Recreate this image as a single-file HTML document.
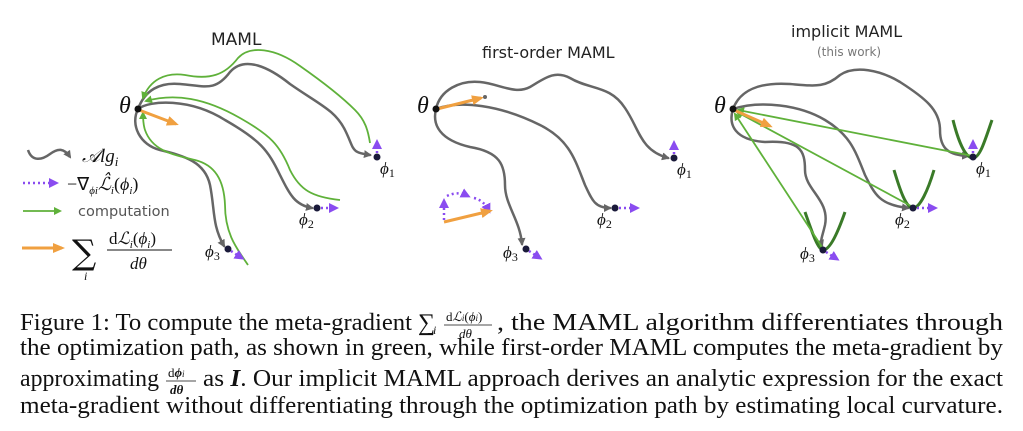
<!DOCTYPE html>
<html><head><meta charset="utf-8"><style>
html,body{margin:0;padding:0;background:#fff;width:1023px;height:431px;overflow:hidden}
svg{display:block}
.s{font-family:"DejaVu Sans","Liberation Sans",sans-serif;fill:#222}
.m{font-family:"Liberation Serif",serif;font-style:italic;fill:#111}
.c{font-family:"Liberation Serif",serif;fill:#111;font-size:24px}
</style></head><body>
<svg width="1023" height="431" viewBox="0 0 1023 431" xmlns="http://www.w3.org/2000/svg">
<defs>
<marker id="ag" markerWidth="8" markerHeight="8" refX="6" refY="4" orient="auto" markerUnits="userSpaceOnUse"><path d="M0,0 L8,4 L0,8 z" fill="#666"/></marker>
<marker id="agr" markerWidth="8" markerHeight="8" refX="6" refY="4" orient="auto" markerUnits="userSpaceOnUse"><path d="M0,0 L8,4 L0,8 z" fill="#5fb13a"/></marker>
<marker id="ao" markerWidth="12" markerHeight="10" refX="9" refY="5" orient="auto" markerUnits="userSpaceOnUse"><path d="M0,0 L12,5 L0,10 z" fill="#f0a040"/></marker>
<marker id="ap" markerWidth="10" markerHeight="10" refX="7" refY="5" orient="auto" markerUnits="userSpaceOnUse"><path d="M0,0 L10,5 L0,10 z" fill="#8a4cf0"/></marker>
</defs>

<text class="s" x="211" y="45" font-size="17">MAML</text>
<text class="s" x="482" y="58" font-size="16">first-order MAML</text>
<text class="s" x="791" y="37" font-size="16">implicit MAML</text>
<text class="s" x="817" y="56" font-size="12" style="fill:#777">(this work)</text>

<!-- Panel 1 -->
<g fill="none" stroke-width="2.5" stroke-linecap="round">
<path d="M138,109 C145,90 160,82 180,84 C205,86 215,92 230,72 C245,55 270,68 290,84 C320,105 335,110 345,130 C355,150 350,152 370,155" stroke="#666" marker-end="url(#ag)"/>
<path d="M138,109 C150,100 190,98 225,120 C260,140 268,150 280,175 C290,195 295,205 312,208" stroke="#666" marker-end="url(#ag)"/>
<path d="M138,109 C130,125 140,145 160,150 C185,156 205,162 210,185 C215,210 212,225 224,246" stroke="#666" marker-end="url(#ag)"/>
</g>
<g fill="none" stroke="#5fb13a" stroke-width="1.8">
<path d="M370,143 C368,130 365,120 355,110 C340,95 320,80 300,66 C275,48 250,45 238,58 C225,75 210,80 185,75 C165,72 150,80 143,98" marker-end="url(#agr)"/>
<path d="M340,200 C312,197 300,190 290,170 C280,145 270,135 240,118 C205,98 175,93 146,101" marker-end="url(#agr)"/>
<path d="M248,265 C238,250 225,235 225,205 C224,180 215,165 195,160 C170,154 152,150 145,130 C143,124 143,118 143,113" marker-end="url(#agr)"/>
</g>
<line x1="139" y1="110" x2="176" y2="124" stroke="#f0a040" stroke-width="3" marker-end="url(#ao)"/>
<circle cx="138" cy="109" r="3.5" fill="#111"/>
<text class="m" x="119" y="113" font-size="24">θ</text>
<line x1="377" y1="153" x2="377" y2="142" stroke="#8a4cf0" stroke-width="2.5" stroke-dasharray="2,3" marker-end="url(#ap)"/>
<circle cx="377" cy="157" r="3.5" fill="#1a1a3a"/>
<text class="m" x="380" y="174" font-size="17">ϕ<tspan font-size="12" font-style="normal" dy="3">1</tspan></text>
<line x1="321" y1="208" x2="336" y2="208" stroke="#8a4cf0" stroke-width="2.5" stroke-dasharray="2,3" marker-end="url(#ap)"/>
<circle cx="317" cy="208" r="3.5" fill="#1a1a3a"/>
<text class="m" x="299" y="225" font-size="17">ϕ<tspan font-size="12" font-style="normal" dy="3">2</tspan></text>
<line x1="231" y1="251" x2="242" y2="258" stroke="#8a4cf0" stroke-width="2.5" stroke-dasharray="2,3" marker-end="url(#ap)"/>
<circle cx="228" cy="249" r="3.5" fill="#1a1a3a"/>
<text class="m" x="205" y="257" font-size="17">ϕ<tspan font-size="12" font-style="normal" dy="3">3</tspan></text>

<!-- legend -->
<path d="M28,150 C32,162 42,160 50,154 C58,148 64,148 70,157" fill="none" stroke="#666" stroke-width="2.5" marker-end="url(#ag)"/>
<text class="m" x="82" y="162" font-size="19">𝒜lg<tspan font-size="13" dy="4">i</tspan></text>
<line x1="23" y1="183" x2="56" y2="183" stroke="#8a4cf0" stroke-width="2.5" stroke-dasharray="2,3" marker-end="url(#ap)"/>
<text class="m" x="67" y="190" font-size="18"><tspan font-style="normal">−∇</tspan><tspan font-size="11" dy="4">ϕi</tspan><tspan dy="-4">ℒ̂</tspan><tspan font-size="11" dy="4">i</tspan><tspan dy="-4" font-style="normal">(</tspan>ϕ<tspan font-size="11" dy="4">i</tspan><tspan dy="-4" font-style="normal">)</tspan></text>
<line x1="23" y1="211" x2="60" y2="211" stroke="#5fb13a" stroke-width="1.8" marker-end="url(#agr)"/>
<text class="s" x="78" y="216" font-size="14.5" style="fill:#555">computation</text>
<line x1="22" y1="248" x2="62" y2="248" stroke="#f0a040" stroke-width="3" marker-end="url(#ao)"/>
<text x="72" y="264" font-size="34" font-family="DejaVu Serif,serif" fill="#111">∑</text>
<text class="m" x="84" y="280" font-size="12">i</text>
<text class="m" x="109" y="244" font-size="17"><tspan font-style="normal">d</tspan>ℒ<tspan font-size="11" dy="4">i</tspan><tspan dy="-4" font-style="normal">(</tspan>ϕ<tspan font-size="11" dy="4">i</tspan><tspan dy="-4" font-style="normal">)</tspan></text>
<line x1="107" y1="250" x2="172" y2="250" stroke="#111" stroke-width="1"/>
<text class="m" x="130" y="269" font-size="17">dθ</text>

<!-- Panel 2 -->
<g fill="none" stroke="#666" stroke-width="2.5" stroke-linecap="round">
<path d="M436,109 C440,90 460,80 480,82 C500,84 515,95 530,87 C545,78 555,70 570,78 C590,90 610,85 625,108 C640,130 640,150 668,158" marker-end="url(#ag)"/>
<path d="M436,109 C460,100 500,105 540,125 C570,140 575,160 585,185 C592,200 595,208 610,208" marker-end="url(#ag)"/>
<path d="M436,109 C432,125 440,140 470,147 C500,152 505,165 505,185 C505,205 520,220 522,244" marker-end="url(#ag)"/>
</g>
<line x1="437" y1="109" x2="481" y2="98" stroke="#f0a040" stroke-width="3" marker-end="url(#ao)"/>
<circle cx="485" cy="97" r="2" fill="#666"/>
<circle cx="436" cy="109" r="3.5" fill="#111"/>
<text class="m" x="417" y="113" font-size="24">θ</text>
<line x1="674" y1="154" x2="674" y2="143" stroke="#8a4cf0" stroke-width="2.5" stroke-dasharray="2,3" marker-end="url(#ap)"/>
<circle cx="674" cy="158" r="3.5" fill="#1a1a3a"/>
<text class="m" x="677" y="175" font-size="17">ϕ<tspan font-size="12" font-style="normal" dy="3">1</tspan></text>
<line x1="619" y1="208" x2="637" y2="208" stroke="#8a4cf0" stroke-width="2.5" stroke-dasharray="2,3" marker-end="url(#ap)"/>
<circle cx="615" cy="208" r="3.5" fill="#1a1a3a"/>
<text class="m" x="597" y="225" font-size="17">ϕ<tspan font-size="12" font-style="normal" dy="3">2</tspan></text>
<line x1="529" y1="251" x2="540" y2="258" stroke="#8a4cf0" stroke-width="2.5" stroke-dasharray="2,3" marker-end="url(#ap)"/>
<circle cx="526" cy="249" r="3.5" fill="#1a1a3a"/>
<text class="m" x="503" y="258" font-size="17">ϕ<tspan font-size="12" font-style="normal" dy="3">3</tspan></text>
<line x1="444" y1="220" x2="444" y2="201" stroke="#8a4cf0" stroke-width="2.5" stroke-dasharray="2,3" marker-end="url(#ap)"/>
<path d="M447,196 C455,192 462,193 468,196" fill="none" stroke="#8a4cf0" stroke-width="2.5" stroke-dasharray="2,3" marker-end="url(#ap)"/>
<path d="M474,198 C482,200 486,205 489,211" fill="none" stroke="#8a4cf0" stroke-width="2.5" stroke-dasharray="2,3" marker-end="url(#ap)"/>
<line x1="444" y1="222" x2="490" y2="211" stroke="#f0a040" stroke-width="3" marker-end="url(#ao)"/>

<!-- Panel 3 -->
<g fill="none" stroke="#666" stroke-width="2.5" stroke-linecap="round">
<path d="M733,109 C740,90 760,82 790,84 C815,86 825,88 840,75 C855,65 880,70 900,82 C925,98 940,110 940,130 C940,150 950,155 968,156" marker-end="url(#ag)"/>
<path d="M733,109 C760,100 800,105 825,120 C850,135 855,150 865,175 C875,195 880,205 908,208" marker-end="url(#ag)"/>
<path d="M733,109 C728,125 735,140 765,142 C800,140 805,150 805,170 C805,190 830,200 825,225 C822,238 820,240 822,246" marker-end="url(#ag)"/>
</g>
<g fill="none" stroke="#3a7a28" stroke-width="3">
<path d="M953,120 C958,140 965,158 973,158 C980,158 985,140 992,120"/>
<path d="M894,170 C900,190 906,208 913,208 C920,208 928,190 934,170"/>
<path d="M805,212 C812,232 818,250 823,250 C830,250 838,232 845,212"/>
</g>
<g stroke="#5fb13a" stroke-width="1.8" fill="none">
<line x1="973" y1="156" x2="738" y2="110" marker-end="url(#agr)"/>
<line x1="911" y1="206" x2="737" y2="112" marker-end="url(#agr)"/>
<line x1="822" y1="247" x2="735" y2="114" marker-end="url(#agr)"/>
</g>
<line x1="734" y1="110" x2="770" y2="126" stroke="#f0a040" stroke-width="3" marker-end="url(#ao)"/>
<circle cx="733" cy="109" r="3.5" fill="#111"/>
<text class="m" x="714" y="113" font-size="24">θ</text>
<line x1="973" y1="153" x2="973" y2="142" stroke="#8a4cf0" stroke-width="2.5" stroke-dasharray="2,3" marker-end="url(#ap)"/>
<circle cx="973" cy="157" r="3.5" fill="#1a1a3a"/>
<text class="m" x="976" y="174" font-size="17">ϕ<tspan font-size="12" font-style="normal" dy="3">1</tspan></text>
<line x1="917" y1="208" x2="935" y2="208" stroke="#8a4cf0" stroke-width="2.5" stroke-dasharray="2,3" marker-end="url(#ap)"/>
<circle cx="913" cy="208" r="3.5" fill="#1a1a3a"/>
<text class="m" x="895" y="225" font-size="17">ϕ<tspan font-size="12" font-style="normal" dy="3">2</tspan></text>
<line x1="826" y1="252" x2="837" y2="259" stroke="#8a4cf0" stroke-width="2.5" stroke-dasharray="2,3" marker-end="url(#ap)"/>
<circle cx="823" cy="250" r="3.5" fill="#1a1a3a"/>
<text class="m" x="800" y="259" font-size="17">ϕ<tspan font-size="12" font-style="normal" dy="3">3</tspan></text>

<!-- caption -->
<text class="c" x="20" y="330" textLength="392" lengthAdjust="spacingAndGlyphs">Figure 1: To compute the meta-gradient</text>
<text class="c" x="418" y="330" font-size="26">∑</text>
<text class="m" x="433" y="334" font-size="12">i</text>
<text class="m" x="446" y="321" font-size="13"><tspan font-style="normal">d</tspan>ℒ<tspan font-size="9">i</tspan><tspan font-style="normal">(</tspan>ϕ<tspan font-size="9">i</tspan><tspan font-style="normal">)</tspan></text>
<line x1="444" y1="325" x2="492" y2="325" stroke="#111" stroke-width="0.8"/>
<text class="m" x="459" y="338" font-size="13">dθ</text>
<text class="c" x="497" y="330" textLength="506" lengthAdjust="spacingAndGlyphs">, the MAML algorithm differentiates through</text>
<text class="c" x="20" y="355" textLength="983" lengthAdjust="spacingAndGlyphs">the optimization path, as shown in green, while first-order MAML computes the meta-gradient by</text>
<text class="c" x="20" y="386" textLength="139" lengthAdjust="spacingAndGlyphs">approximating</text>
<text class="m" x="168" y="377" font-size="13"><tspan font-style="normal">d</tspan><tspan font-weight="bold">ϕ</tspan><tspan font-size="9">i</tspan></text>
<line x1="166" y1="381" x2="196" y2="381" stroke="#111" stroke-width="0.8"/>
<text class="m" x="170" y="394" font-size="13" font-weight="bold">dθ</text>
<text class="c" x="203" y="386" textLength="800" lengthAdjust="spacingAndGlyphs">as <tspan font-style="italic" font-weight="bold">I</tspan>. Our implicit MAML approach derives an analytic expression for the exact</text>
<text class="c" x="20" y="413" textLength="983" lengthAdjust="spacingAndGlyphs">meta-gradient without differentiating through the optimization path by estimating local curvature.</text>
</svg>
</body></html>
